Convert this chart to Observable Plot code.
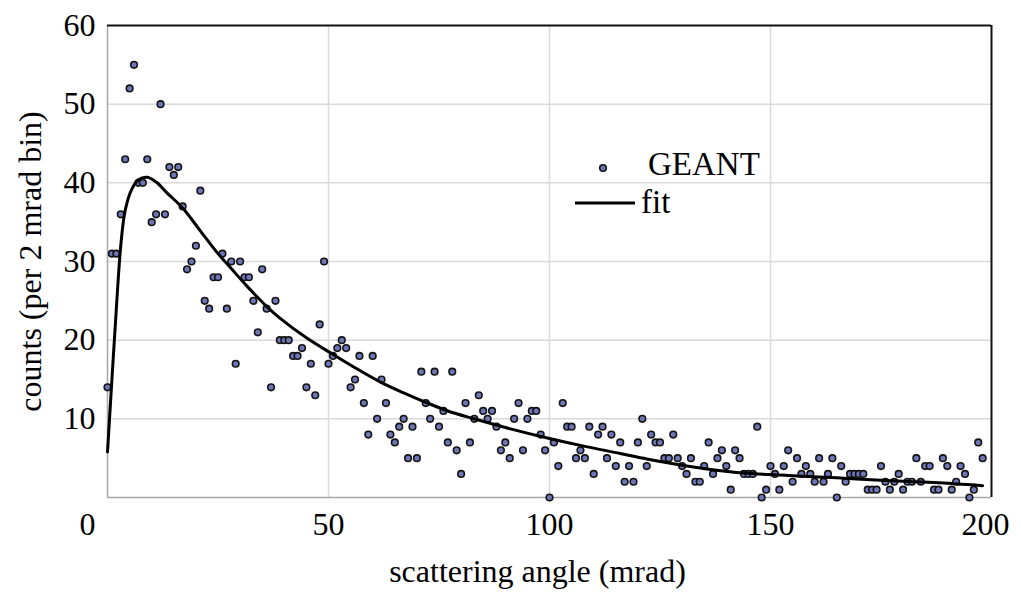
<!DOCTYPE html>
<html>
<head>
<meta charset="utf-8">
<script src="https://cdn.jsdelivr.net/npm/d3@7"></script>
<script src="https://cdn.jsdelivr.net/npm/@observablehq/plot@0.6"></script>
<style>
  html, body { margin: 0; padding: 0; background: #fff; overflow: hidden; }
  #wrap { position: relative; width: 1021px; height: 592px; }
  #chart svg { display: block; }
  #legend { position: absolute; left: 0; top: 0; pointer-events: none; }
  #legend text { font-family: "Liberation Serif", "Times New Roman", serif; font-size: 33px; fill: #000; }
</style>
</head>
<body>
<div id="wrap">
  <div id="chart"></div>
  <svg id="legend" width="1021" height="592">
    <circle cx="603" cy="168" r="3.3" fill="#6e76b8" stroke="#141414" stroke-width="1.6"></circle>
    <text x="648" y="175">GEANT</text>
    <line x1="575" y1="203" x2="635" y2="203" stroke="#000" stroke-width="3"></line>
    <text x="641" y="213">fit</text>
  </svg>
</div>
<script>
// scattering angle bins (mrad)
const angles = [
  0,1,2,3,4,5,6,7,8,9,10,11,12,13,14,15,16,17,18,19,
  20,21,22,23,24,25,26,27,28,29,30,31,32,33,34,35,36,37,38,39,
  40,41,42,43,44,45,46,47,48,49,50,51,52,53,54,55,56,57,58,59,
  60,61,62,63,64,65,66,67,68,69,70,71,72,73,74,75,76,77,78,79,
  80,81,82,83,84,85,86,87,88,89,90,91,92,93,94,95,96,97,98,99,
  100,101,102,103,104,105,106,107,108,109,110,111,112,113,114,115,116,117,118,119,
  120,121,122,123,124,125,126,127,128,129,130,131,132,133,134,135,136,137,138,139,
  140,141,142,143,144,145,146,147,148,149,150,151,152,153,154,155,156,157,158,159,
  160,161,162,163,164,165,166,167,168,169,170,171,172,173,174,175,176,177,178,179,
  180,181,182,183,184,185,186,187,188,189,190,191,192,193,194,195,196,197,198
];
// GEANT counts per bin
const counts = [
  14,31,31,36,43,52,55,40,40,43,35,36,50,36,42,41,42,37,29,30,
  32,39,25,24,28,28,31,24,30,17,30,28,28,25,21,29,24,14,25,20,
  20,20,18,18,19,14,17,13,22,30,17,18,19,20,19,14,15,18,12,8,
  18,10,15,12,8,7,9,10,5,9,5,16,12,10,16,9,11,7,16,6,
  3,12,7,10,13,11,10,11,9,6,7,5,10,12,6,10,11,11,8,6,
  0,7,4,12,9,9,5,6,5,9,3,8,9,5,8,4,7,2,4,2,
  7,10,4,8,7,7,5,5,8,5,4,3,5,2,2,4,7,3,5,6,
  4,1,6,5,3,3,3,9,0,1,4,3,1,4,6,2,5,3,4,3,
  2,5,2,3,5,0,4,2,3,3,3,3,1,1,1,4,2,1,2,3,
  1,2,2,5,2,4,4,1,1,5,4,1,2,4,3,0,1,7,5
];
// fit curve
const fitAngle = [0,1,2,3,4,5.5,7,9,11,13.5,17,21,25,28,31.5,36,39,45,51,56,62,67,72,77,83,90,100,108,116,122,129,136,144,154,165,175,187,198];
const fitCount = [5.8,15,24,32,36.5,39.2,40.4,40.7,40.1,38.7,36.8,33.9,31.0,29.1,26.9,24.3,22.8,20.3,18.2,16.5,14.6,13.3,12.1,11.0,10.0,8.9,7.5,6.5,5.6,4.9,4.2,3.6,3.1,2.8,2.5,2.2,1.9,1.5];

const yTicks = [10,20,30,40,50,60];
const xTicks = [50,100,150];
const gridY = [10,20,30,40,50];
const gridX = [50,100,150];

const font = "'Liberation Serif', 'Times New Roman', serif";

const chart = Plot.plot({
  width: 1021,
  height: 592,
  marginLeft: 107,
  marginRight: 30,
  marginTop: 25,
  marginBottom: 95,
  x: {domain: [0, 200]},
  y: {domain: [0, 60]},
  style: {fontFamily: font, fontSize: "32px", color: "#000", background: "#fff", overflow: "visible"},
  marks: [
    Plot.ruleY(gridY, {stroke: "#d9d9d9", strokeWidth: 1.5}),
    Plot.ruleX(gridX, {stroke: "#d9d9d9", strokeWidth: 1.5}),
    Plot.ruleX([0], {stroke: "#a6a6a6", strokeWidth: 1.5}),
    Plot.ruleY([0], {stroke: "#a6a6a6", strokeWidth: 1.5}),
    Plot.ruleY([60], {stroke: "#111", strokeWidth: 2}),
    Plot.ruleX([200], {stroke: "#111", strokeWidth: 2}),
    Plot.axisY(yTicks, {tickSize: 0, tickPadding: 12, label: null, fontSize: 32}),
    Plot.axisX(xTicks, {tickSize: 0, tickPadding: 15, label: null, fontSize: 32}),
    Plot.text([0], {x: d => d, frameAnchor: "bottom", dy: 15, dx: -20, lineAnchor: "top", text: d => String(d), fontSize: 32}),
    Plot.text([200], {x: d => d, frameAnchor: "bottom", dy: 15, dx: -6, lineAnchor: "top", text: d => String(d), fontSize: 32}),
    Plot.text(["scattering angle (mrad)"], {frameAnchor: "bottom", dy: 74, dx: -12, lineAnchor: "middle", fontSize: 32}),
    Plot.text(["counts (per 2 mrad bin)"], {frameAnchor: "left", dx: -77, rotate: -90, lineAnchor: "middle", textAnchor: "middle", fontSize: 32}),
    Plot.dot(angles, {x: angles, y: counts, r: 3.3, fill: "#6e76b8", stroke: "#141414", strokeWidth: 1.6}),
    Plot.line(fitAngle, {x: fitAngle, y: fitCount, curve: "catmull-rom", stroke: "#000", strokeWidth: 3})
  ]
});
document.getElementById("chart").appendChild(chart);
</script>
</body>
</html>
